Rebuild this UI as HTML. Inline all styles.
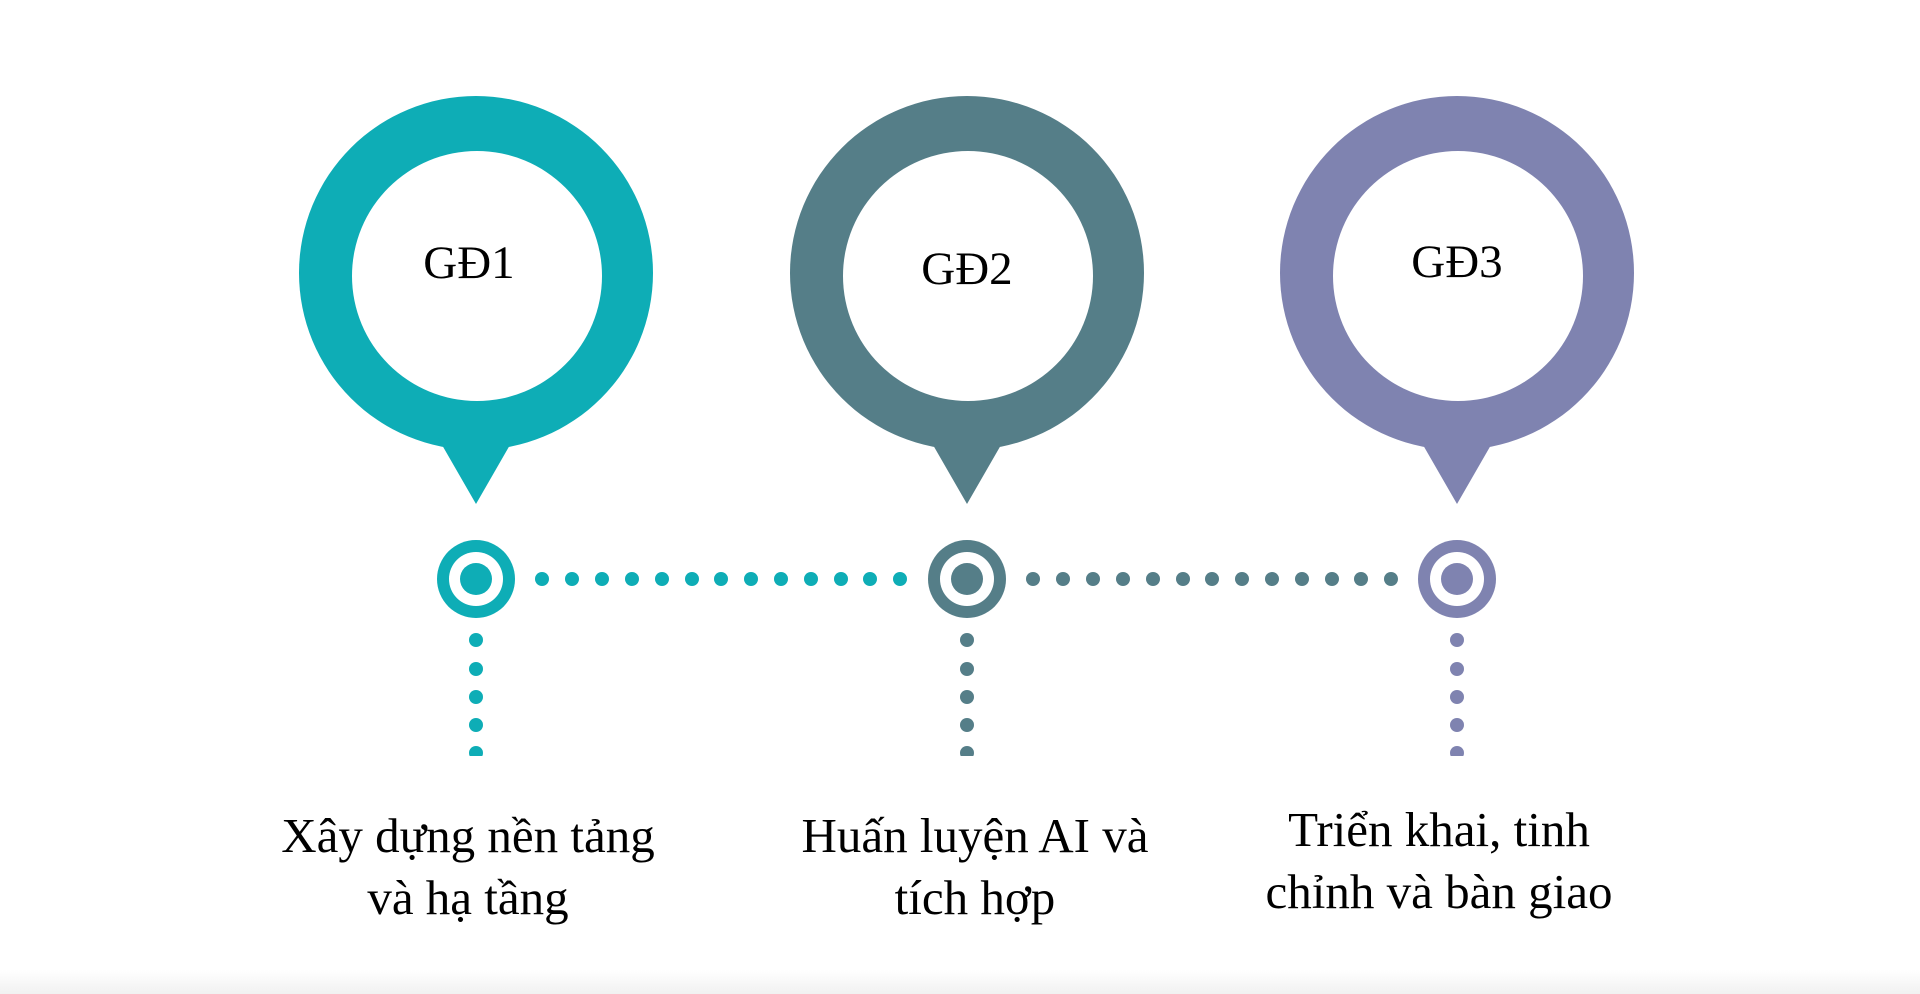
<!DOCTYPE html>
<html><head><meta charset="utf-8"><style>
html,body{margin:0;padding:0;background:#fff;}
body{width:1920px;height:994px;overflow:hidden;position:relative;font-family:"Liberation Serif",serif;}
svg{position:absolute;left:0;top:0;}
.lbl{position:absolute;width:500px;text-align:center;font-size:49px;line-height:62px;color:#000;}
.bot{position:absolute;left:0;top:970px;width:1920px;height:24px;background:linear-gradient(#fff,#f1f1f1);}
</style></head><body>
<svg width="1920" height="994" viewBox="0 0 1920 994">
<defs>
<clipPath id="cl"><rect x="0" y="0" width="1920" height="756"/></clipPath>
</defs>
<g fill="#0eadb6">
<circle cx="476" cy="273" r="177"/>
<polygon points="438,438 514,438 476,504"/>
</g>
<circle cx="477" cy="276" r="125" fill="#fff"/>
<g fill="#557e88">
<circle cx="967" cy="273" r="177"/>
<polygon points="929,438 1005,438 967,504"/>
</g>
<circle cx="968" cy="276" r="125" fill="#fff"/>
<g fill="#7f83b0">
<circle cx="1457" cy="273" r="177"/>
<polygon points="1419,438 1495,438 1457,504"/>
</g>
<circle cx="1458" cy="276" r="125" fill="#fff"/>
<text x="469" y="278" font-family="Liberation Serif" font-size="47" text-anchor="middle">GĐ1</text>
<text x="967" y="284" font-family="Liberation Serif" font-size="47" text-anchor="middle">GĐ2</text>
<text x="1457" y="277" font-family="Liberation Serif" font-size="47" text-anchor="middle">GĐ3</text>
<circle cx="476" cy="579" r="39" fill="#0eadb6"/><circle cx="476" cy="579" r="27" fill="#fff"/><circle cx="476" cy="579" r="16" fill="#0eadb6"/>
<circle cx="967" cy="579" r="39" fill="#557e88"/><circle cx="967" cy="579" r="27" fill="#fff"/><circle cx="967" cy="579" r="16" fill="#557e88"/>
<circle cx="1457" cy="579" r="39" fill="#7f83b0"/><circle cx="1457" cy="579" r="27" fill="#fff"/><circle cx="1457" cy="579" r="16" fill="#7f83b0"/>
<g fill="#0eadb6">
<circle cx="542" cy="579" r="7"/><circle cx="572" cy="579" r="7"/><circle cx="602" cy="579" r="7"/><circle cx="632" cy="579" r="7"/><circle cx="662" cy="579" r="7"/><circle cx="692" cy="579" r="7"/><circle cx="721" cy="579" r="7"/><circle cx="751" cy="579" r="7"/><circle cx="781" cy="579" r="7"/><circle cx="811" cy="579" r="7"/><circle cx="841" cy="579" r="7"/><circle cx="870" cy="579" r="7"/><circle cx="900" cy="579" r="7"/>
</g>
<g fill="#557e88">
<circle cx="1033" cy="579" r="7"/><circle cx="1063" cy="579" r="7"/><circle cx="1093" cy="579" r="7"/><circle cx="1123" cy="579" r="7"/><circle cx="1153" cy="579" r="7"/><circle cx="1183" cy="579" r="7"/><circle cx="1212" cy="579" r="7"/><circle cx="1242" cy="579" r="7"/><circle cx="1272" cy="579" r="7"/><circle cx="1302" cy="579" r="7"/><circle cx="1332" cy="579" r="7"/><circle cx="1361" cy="579" r="7"/><circle cx="1391" cy="579" r="7"/>
</g>
<g clip-path="url(#cl)">
<g fill="#0eadb6"><circle cx="476" cy="640" r="7"/><circle cx="476" cy="669" r="7"/><circle cx="476" cy="697" r="7"/><circle cx="476" cy="725" r="7"/><circle cx="476" cy="753" r="7"/></g>
<g fill="#557e88"><circle cx="967" cy="640" r="7"/><circle cx="967" cy="669" r="7"/><circle cx="967" cy="697" r="7"/><circle cx="967" cy="725" r="7"/><circle cx="967" cy="753" r="7"/></g>
<g fill="#7f83b0"><circle cx="1457" cy="640" r="7"/><circle cx="1457" cy="669" r="7"/><circle cx="1457" cy="697" r="7"/><circle cx="1457" cy="725" r="7"/><circle cx="1457" cy="753" r="7"/></g>
</g>
</svg>
<div class="lbl" style="left:218px;top:805px;">Xây dựng nền tảng<br>và hạ tầng</div>
<div class="lbl" style="left:725px;top:805px;">Huấn luyện AI và<br>tích hợp</div>
<div class="lbl" style="left:1189px;top:799px;">Triển khai, tinh<br>chỉnh và bàn giao</div>
<div class="bot"></div>
</body></html>
